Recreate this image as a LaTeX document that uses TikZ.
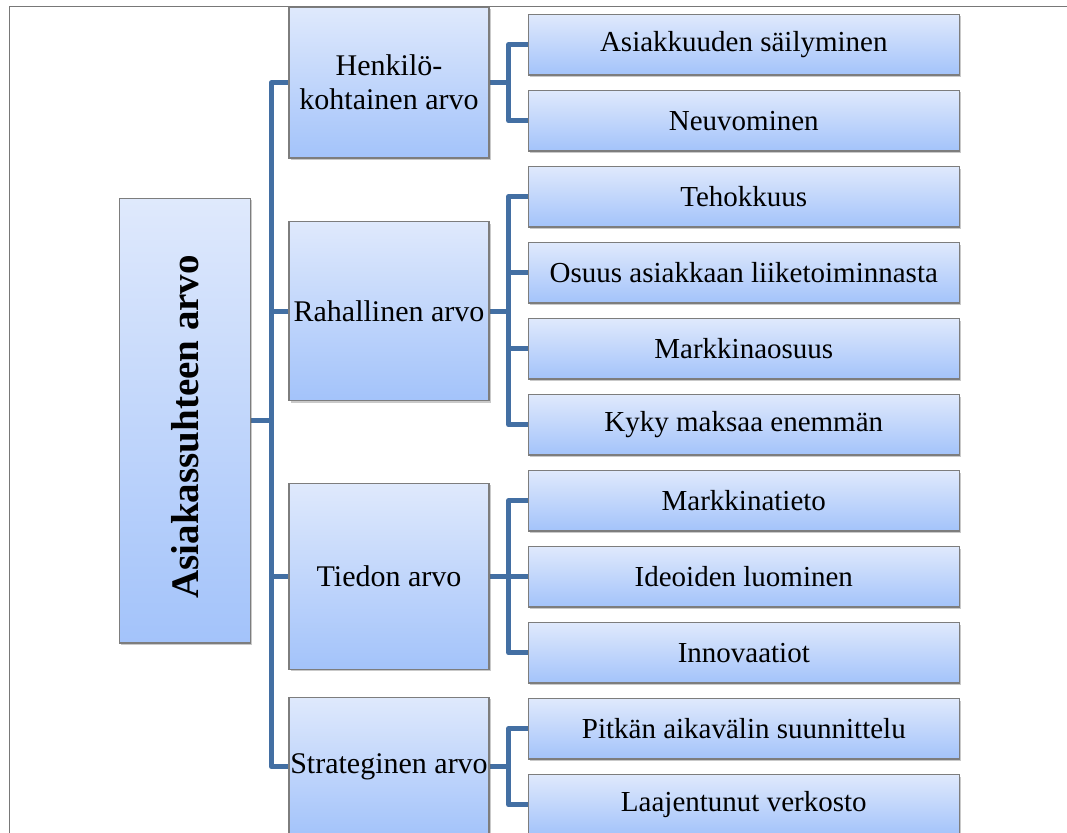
\documentclass[tikz,border=0pt]{standalone}
\usepackage{fontspec}
\setmainfont{Liberation Serif}
\usetikzlibrary{shadows,backgrounds}

\definecolor{linkblue}{RGB}{67,111,163}
\definecolor{boxtop}{RGB}{223,233,252}
\definecolor{boxbot}{RGB}{163,195,250}
\definecolor{edgegray}{RGB}{125,125,125}
\definecolor{framegray}{RGB}{120,120,120}

\tikzset{
  box/.style={draw=edgegray, line width=1.2pt, top color=boxtop, bottom color=boxbot,
    inner sep=0pt, align=center,
    drop shadow={shadow xshift=1.5pt, shadow yshift=-2pt, opacity=0.35, fill=black!60}},
  rootbox/.style={box, minimum width=131.4pt, minimum height=444.7pt,
    font=\fontsize{39}{44}\selectfont\bfseries},
  midbox/.style={box, minimum width=200pt, font=\fontsize{30}{34}\selectfont},
  leafbox/.style={box, minimum width=431pt, minimum height=60.5pt,
    font=\fontsize{29}{33}\selectfont},
  conn/.style={draw=linkblue, line width=5pt, line join=round},
}

\begin{document}
\begin{tikzpicture}[x=1pt, y=-1pt]
  \useasboundingbox (0,0) rectangle (1067,832);
  \clip (0,0) rectangle (1067,832);

  % outer frame
  \draw[framegray, line width=1.5pt] (9.5,845) |- (1080,6.3);

  % root
  \node[rootbox] (root) at (185,420.7) {\raisebox{0pt}{\rotatebox{90}{\hspace*{-12pt}Asiakassuhteen arvo}}};

  % first level
  \node[midbox, minimum height=150.5pt] (henk) at (389,82.7) {Henkilö-\\kohtainen arvo};
  \node[midbox, minimum height=179pt]   (raha) at (389,311.2) {Rahallinen arvo};
  \node[midbox, minimum height=186pt]   (tied) at (389,576.3) {Tiedon arvo};
  \node[midbox, minimum height=139pt]   (stra) at (389,766.7) {Strateginen arvo};

  % second level
  \node[leafbox] (a1) at (743.8,44.75)  {Asiakkuuden säilyminen};
  \node[leafbox] (a2) at (743.8,120.75) {Neuvominen};
  \node[leafbox] (b1) at (743.8,196.75) {Tehokkuus};
  \node[leafbox] (b2) at (743.8,272.75) {Osuus asiakkaan liiketoiminnasta};
  \node[leafbox] (b3) at (743.8,348.75) {Markkinaosuus};
  \node[leafbox] (b4) at (743.8,424.75) {Kyky maksaa enemmän};
  \node[leafbox] (c1) at (743.8,500.75) {Markkinatieto};
  \node[leafbox] (c2) at (743.8,576.75) {Ideoiden luominen};
  \node[leafbox] (c3) at (743.8,652.75) {Innovaatiot};
  \node[leafbox] (d1) at (743.8,728.75) {Pitkän aikavälin suunnittelu};
  \node[leafbox] (d2) at (743.8,804.75) {Laajentunut verkosto};

  % connectors, drawn beneath the boxes
  \begin{scope}[on background layer]
    \fill[white] (0,0) rectangle (1067,832);
    \foreach \m in {henk,raha,tied,stra}
      \draw[conn] (root.east) -- ++(20,0) |- (\m.west);
    \foreach \c in {a1,a2}
      \draw[conn] (henk.east) -- ++(19,0) |- (\c.west);
    \foreach \c in {b1,b2,b3,b4}
      \draw[conn] (raha.east) -- ++(19,0) |- (\c.west);
    \foreach \c in {c1,c2,c3}
      \draw[conn] (tied.east) -- ++(19,0) |- (\c.west);
    \foreach \c in {d1,d2}
      \draw[conn] (stra.east) -- ++(19,0) |- (\c.west);
  \end{scope}
\end{tikzpicture}
\end{document}
